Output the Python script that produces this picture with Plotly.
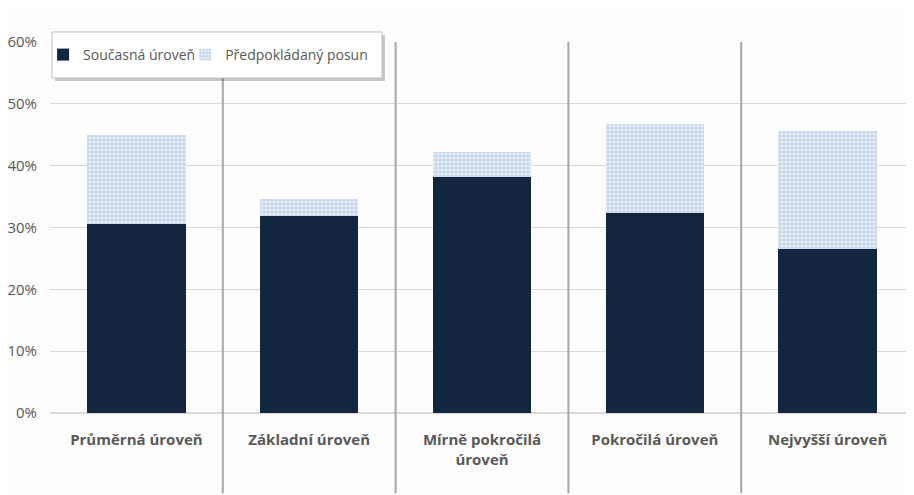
import plotly.graph_objects as go

categories = ["Průměrná úroveň", "Základní úroveň", "Mírně pokročilá<br>úroveň", "Pokročilá úroveň", "Nejvyšší úroveň"]
current = [0.306, 0.319, 0.382, 0.324, 0.265]
shift = [0.144, 0.027, 0.040, 0.144, 0.191]
y_ticks = [0, 0.1, 0.2, 0.3, 0.4, 0.5, 0.6]
y_tick_labels = ["0%", "10%", "20%", "30%", "40%", "50%", "60%"]

font_family = "Open Sans, Lato, sans-serif"
grey = "#595959"

fig = go.Figure()
fig.add_trace(go.Bar(
    x=categories, y=current, name="Současná úroveň",
    marker=dict(color="#12263f", line=dict(width=0)),
    legend="legend", showlegend=True,
))
fig.add_trace(go.Bar(
    x=categories, y=shift, name="Předpokládaný posun",
    marker=dict(color="#b9cde5", line=dict(width=0),
                pattern=dict(shape=".", fgcolor="#a7bfdc", bgcolor="#e3ebf5", size=4, solidity=0.5)),
    legend="legend2", showlegend=True,
))

# category separators
for i in range(len(categories) - 1):
    fig.add_shape(type="line", xref="x", yref="paper", x0=i + 0.5, x1=i + 0.5,
                  y0=-0.216, y1=1.0, line=dict(color="#a6a6a6", width=2), layer="above")

# legend box with shadow
fig.add_shape(type="rect", xref="paper", yref="paper",
              x0=0.0058, x1=0.3877, y0=0.8949, y1=1.0189,
              fillcolor="rgba(0,0,0,0.22)", line=dict(width=0), layer="above")
fig.add_shape(type="rect", xref="paper", yref="paper",
              x0=0.0023, x1=0.3843, y0=0.9030, y1=1.0270,
              fillcolor="#ffffff", line=dict(color="#bfbfbf", width=1), layer="above")

legend_common = dict(orientation="h", y=0.965, xanchor="left", yanchor="middle",
                     bgcolor="rgba(0,0,0,0)", borderwidth=0,
                     font=dict(size=14, color=grey), itemwidth=30, visible=True)

fig.update_layout(
    width=906, height=487,
    barmode="stack", bargap=0.43,
    showlegend=True,
    paper_bgcolor="#fdfdfd", plot_bgcolor="#fdfdfd",
    margin=dict(l=42, r=0, t=34, b=82, autoexpand=False),
    font=dict(family=font_family, color=grey, size=15),
    legend=dict(x=-0.008, **legend_common),
    legend2=dict(x=0.1564, **legend_common),
    xaxis=dict(showgrid=False, showline=False, ticks="",
               tickfont=dict(size=15, color=grey, family=font_family, weight="bold"),
               ticklabelstandoff=16, zeroline=False, automargin=False),
    yaxis=dict(range=[0, 0.6], tickvals=y_ticks, ticktext=y_tick_labels,
               gridcolor="#d9d9d9", gridwidth=1, zeroline=True, zerolinecolor="#d9d9d9",
               showline=False, ticks="", ticklabelstandoff=12, automargin=False,
               tickfont=dict(size=15, color=grey)),
)

fig.write_html("out.html")
